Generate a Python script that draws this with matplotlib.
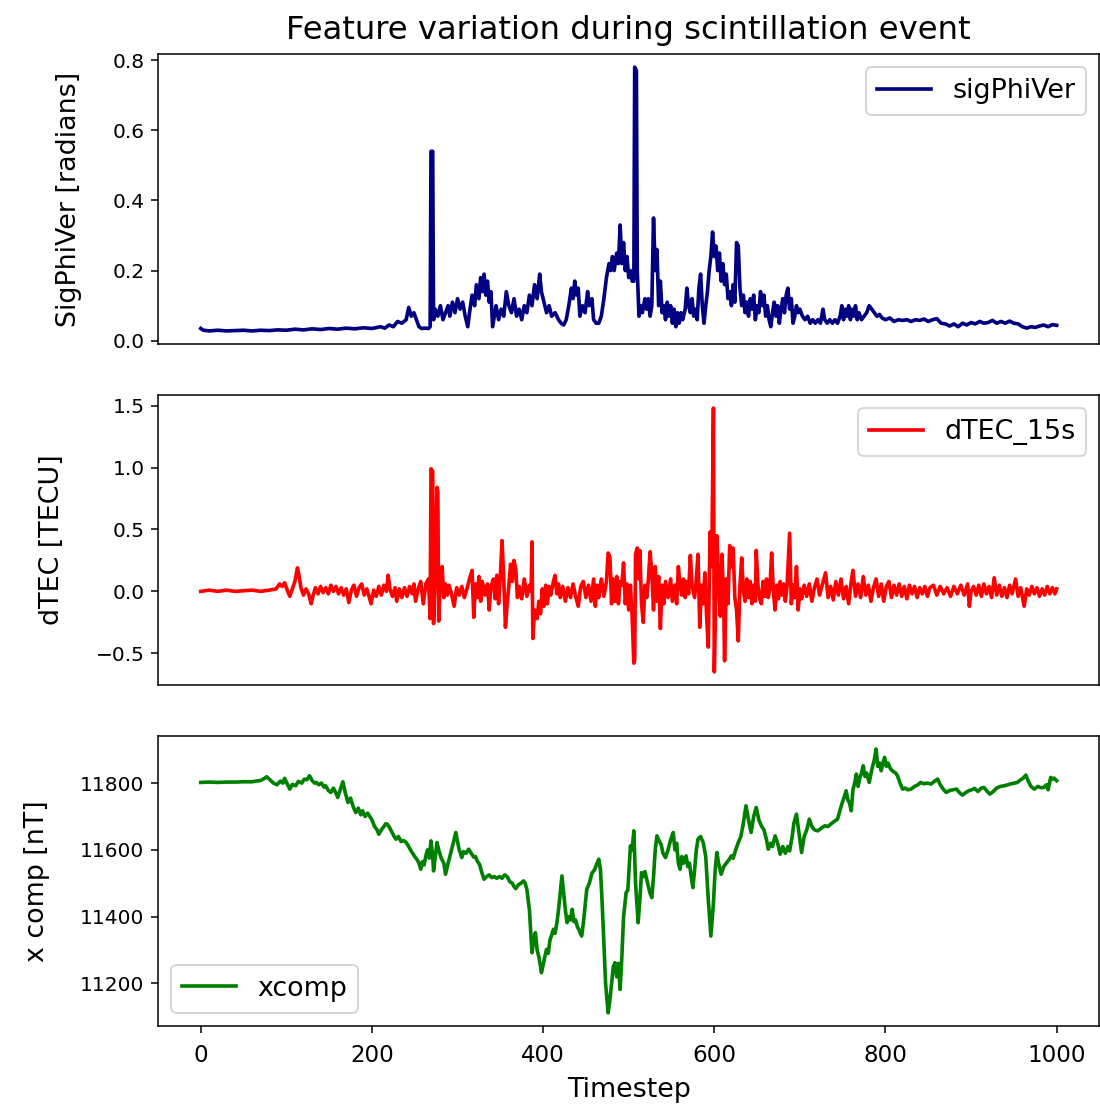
import numpy as np
import matplotlib
matplotlib.use("Agg")
import matplotlib.pyplot as plt

# sigPhiVer (radians)
sig_t = [0, 3, 10, 20, 30, 40, 50, 60, 70, 80, 90, 100, 110, 120, 130, 140, 150, 160, 170, 180,
         190, 200, 210, 215, 220, 225, 230, 235, 240, 243, 246, 249, 252, 255, 258, 262, 266, 268,
         269, 271, 272, 274, 277, 280, 283, 286, 289, 291, 294, 297, 300, 303, 306, 309, 312, 314,
         317, 320, 322, 325, 327, 329, 331, 333, 335, 337, 339, 341, 343, 345, 348, 351, 354, 357,
         360, 363, 366, 369, 372, 375, 378, 381, 384, 387, 390, 393, 396, 398, 401, 404, 407, 410,
         414, 418, 421, 424, 427, 430, 433, 435, 437, 439, 441, 443, 446, 449, 452, 454, 457, 459,
         462, 465, 468, 471, 474, 477, 479, 481, 483, 486, 488, 490, 492, 494, 496, 498, 500, 502,
         504, 506, 507, 509, 510, 512, 514, 516, 519, 521, 523, 525, 527, 529, 531, 533, 535, 537,
         539, 541, 543, 545, 547, 549, 551, 553, 555, 557, 559, 561, 563, 566, 568, 570, 572, 574,
         576, 578, 580, 582, 584, 586, 588, 590, 592, 594, 596, 598, 600, 602, 604, 606, 608, 610,
         612, 614, 616, 618, 620, 622, 624, 626, 628, 630, 632, 634, 636, 638, 640, 642, 644, 646,
         648, 650, 652, 654, 656, 658, 660, 662, 664, 666, 668, 670, 672, 674, 676, 678, 680, 682,
         684, 686, 688, 690, 692, 694, 696, 698, 700, 703, 706, 709, 712, 715, 718, 721, 724, 727,
         729, 732, 735, 738, 741, 744, 747, 749, 751, 753, 755, 757, 759, 761, 763, 765, 767, 769,
         772, 775, 778, 781, 784, 787, 790, 793, 796, 800, 805, 810, 815, 820, 825, 830, 835, 840,
         845, 850, 855, 860, 865, 870, 875, 880, 885, 890, 895, 900, 905, 910, 915, 920, 925, 930,
         935, 940, 945, 950, 955, 960, 965, 970, 975, 980, 985, 990, 995, 1000]
sig_val = [0.035, 0.03, 0.028, 0.03, 0.028, 0.029, 0.03, 0.028, 0.03, 0.029, 0.031, 0.03, 0.033,
           0.031, 0.034, 0.032, 0.035, 0.033, 0.036, 0.034, 0.037, 0.035, 0.04, 0.036, 0.045, 0.04,
           0.055, 0.05, 0.06, 0.095, 0.07, 0.08, 0.06, 0.04, 0.035, 0.036, 0.035, 0.04,
           0.54, 0.54, 0.06, 0.09, 0.07, 0.1, 0.06, 0.08, 0.1, 0.07, 0.11, 0.08, 0.12, 0.09, 0.11,
           0.07, 0.04, 0.08, 0.13, 0.1, 0.16, 0.12, 0.18, 0.14, 0.19, 0.13, 0.17, 0.11, 0.14, 0.04,
           0.07, 0.1, 0.06, 0.09, 0.07, 0.14, 0.1, 0.08, 0.12, 0.07, 0.09, 0.06, 0.1, 0.08, 0.13,
           0.1, 0.16, 0.12, 0.19, 0.14, 0.11, 0.08, 0.1, 0.07, 0.08, 0.06, 0.05, 0.045, 0.06, 0.1,
           0.15, 0.12, 0.17, 0.13, 0.15, 0.07, 0.1, 0.08, 0.14, 0.1, 0.12, 0.06, 0.05, 0.05, 0.07,
           0.12, 0.18, 0.22, 0.2, 0.24, 0.2, 0.25, 0.22, 0.33, 0.22, 0.28, 0.2, 0.24, 0.18, 0.2,
           0.17, 0.17, 0.78, 0.77, 0.2, 0.07, 0.1, 0.08, 0.12, 0.09, 0.12, 0.07, 0.1, 0.35, 0.2,
           0.26, 0.1, 0.17, 0.08, 0.1, 0.06, 0.11, 0.07, 0.1, 0.05, 0.09, 0.04, 0.08, 0.05, 0.08,
           0.06, 0.09, 0.15, 0.1, 0.08, 0.12, 0.07, 0.09, 0.06, 0.15, 0.19, 0.1, 0.05, 0.1, 0.14,
           0.2, 0.24, 0.31, 0.24, 0.27, 0.2, 0.25, 0.17, 0.22, 0.16, 0.19, 0.12, 0.14, 0.1, 0.16,
           0.11, 0.28, 0.27, 0.15, 0.1, 0.13, 0.08, 0.11, 0.07, 0.12, 0.09, 0.13, 0.06, 0.1, 0.08,
           0.14, 0.1, 0.13, 0.07, 0.1, 0.06, 0.04, 0.08, 0.11, 0.07, 0.1, 0.05, 0.09, 0.12, 0.08,
           0.13, 0.15, 0.09, 0.12, 0.05, 0.07, 0.1, 0.08, 0.09, 0.07, 0.06, 0.07, 0.05, 0.06, 0.05,
           0.06, 0.05, 0.09, 0.06, 0.05, 0.06, 0.05, 0.06, 0.05, 0.07, 0.1, 0.06, 0.09, 0.07, 0.1,
           0.06, 0.09, 0.07, 0.1, 0.06, 0.08, 0.06, 0.07, 0.08, 0.1, 0.09, 0.08, 0.07, 0.075, 0.065,
           0.06, 0.065, 0.055, 0.06, 0.058, 0.06, 0.055, 0.06, 0.058, 0.062, 0.055, 0.06, 0.063,
           0.05, 0.048, 0.042, 0.048, 0.04, 0.05, 0.045, 0.052, 0.048, 0.055, 0.05, 0.052, 0.058,
           0.05, 0.055, 0.05, 0.056, 0.05, 0.048, 0.04, 0.036, 0.04, 0.038, 0.042, 0.045, 0.04,
           0.046, 0.044]

# dTEC_15s (TECU)
dtec_t = [0, 10, 20, 30, 40, 50, 60, 70, 80, 88, 92, 95, 98, 101, 104, 107, 110, 113, 115, 117,
          120, 123, 126, 129, 131, 134, 137, 140, 143, 146, 149, 152, 155, 158, 161, 164, 167, 170,
          173, 176, 179, 182, 185, 188, 191, 194, 197, 199, 202, 205, 208, 211, 214, 217, 219, 221,
          224, 227, 229, 232, 235, 238, 241, 244, 247, 249, 251, 254, 257, 260, 263, 266, 268, 269,
          271, 272, 274, 276, 277, 278, 280, 282, 284, 286, 288, 290, 293, 296, 299, 302, 305, 308,
          311, 314, 317, 319, 321, 323, 325, 327, 329, 332, 335, 337, 339, 342, 344, 346, 348, 350,
          352, 354, 356, 358, 360, 362, 364, 366, 368, 370, 372, 375, 378, 381, 384, 386, 387, 388,
          390, 393, 395, 397, 399, 401, 403, 405, 407, 409, 412, 414, 416, 418, 420, 423, 426, 429,
          432, 435, 438, 441, 444, 447, 450, 453, 456, 459, 461, 463, 465, 468, 471, 474, 476, 478,
          480, 482, 484, 486, 488, 490, 492, 494, 496, 498, 500, 502, 504, 506, 507, 508, 510, 512,
          513, 515, 517, 519, 521, 523, 525, 527, 529, 531, 533, 535, 537, 539, 541, 543, 546, 549,
          551, 554, 556, 558, 560, 562, 564, 566, 568, 570, 572, 574, 577, 579, 581, 583, 585, 587,
          589, 591, 593, 595, 597, 599, 600, 601, 603, 605, 607, 609, 611, 612, 614, 616, 618, 620,
          622, 624, 626, 628, 630, 632, 634, 636, 638, 640, 642, 644, 646, 648, 649, 651, 653, 655,
          657, 659, 661, 663, 665, 667, 669, 671, 673, 675, 677, 679, 681, 683, 685, 688, 690, 692,
          694, 696, 698, 700, 702, 705, 708, 711, 714, 717, 720, 723, 726, 730, 733, 736, 739, 742,
          745, 748, 751, 754, 757, 760, 762, 765, 768, 771, 774, 777, 780, 783, 786, 789, 792, 795,
          798, 801, 804, 807, 810, 813, 816, 819, 822, 825, 828, 831, 834, 837, 840, 843, 846, 849,
          852, 856, 860, 864, 868, 872, 876, 880, 884, 888, 892, 896, 898, 900, 903, 906, 909, 912,
          915, 918, 921, 924, 927, 930, 933, 936, 939, 942, 945, 948, 952, 955, 958, 962, 965, 968,
          971, 974, 977, 980, 983, 986, 989, 992, 995, 998, 1000]
dtec_val = [0.0, 0.01, 0.0, 0.01, 0.0, 0.005, 0.01, 0.0, 0.01, 0.02, 0.06, 0.04, 0.07, 0.01, -0.04,
            0.02, 0.08, 0.19, 0.12, 0.03, -0.03, 0.02, -0.02, -0.1, -0.04, 0.03, -0.02, 0.04,
            -0.01, 0.03, -0.02, 0.05, 0.0, 0.04, -0.02, 0.03, -0.03, 0.02, -0.09, 0.01, 0.05,
            -0.04, 0.03, 0.06, -0.03, 0.02, -0.05, -0.1, 0.01, -0.04, 0.04, -0.03, 0.05, 0.0, 0.13,
            0.02, -0.04, 0.03, -0.08, 0.02, -0.05, 0.03, -0.04, 0.04, -0.02, 0.06, -0.08, 0.02,
            0.08, -0.1, 0.06, 0.1, -0.22, 0.99, 0.97, -0.26, 0.15, 0.84, 0.8, -0.24, 0.1, 0.2,
            -0.05, 0.06, -0.03, 0.05, -0.02, -0.12, 0.03, -0.03, 0.04, -0.05, 0.02, 0.1, 0.17,
            -0.21, 0.06, -0.05, 0.12, -0.08, 0.08, -0.03, 0.06, -0.15, 0.04, 0.1, -0.06, 0.13,
            -0.1, 0.12, 0.41, 0.1, -0.29, -0.1, 0.05, 0.22, 0.08, 0.25, 0.18, -0.05, 0.04, -0.06,
            0.1, -0.04, 0.05, 0.0, 0.4, -0.38, -0.15, -0.22, -0.08, -0.18, 0.02, -0.12, 0.05, -0.1,
            0.04, -0.03, 0.08, 0.13, -0.02, 0.06, -0.05, 0.04, -0.08, 0.03, -0.05, 0.06, -0.04,
            -0.12, 0.04, 0.08, -0.05, 0.05, -0.08, 0.1, -0.12, 0.05, -0.05, 0.1, -0.04, 0.08, 0.31,
            0.28, -0.1, 0.1, -0.08, 0.12, -0.1, 0.08, 0.05, 0.23, -0.1, 0.06, -0.15, 0.05, -0.2,
            -0.58, -0.55, 0.3, 0.35, 0.1, 0.33, -0.1, -0.25, 0.05, -0.05, 0.1, 0.32, 0.15, -0.15,
            0.2, -0.08, 0.12, -0.3, 0.05, -0.1, 0.08, -0.05, 0.1, -0.08, 0.05, -0.1, 0.2, 0.05,
            -0.03, 0.1, -0.05, 0.08, -0.02, 0.29, 0.05, -0.05, 0.1, 0.3, -0.29, 0.05, -0.1, 0.15,
            -0.2, -0.45, 0.48, 0.2, 1.48, -0.65, -0.3, 0.45, 0.1, -0.2, 0.3, -0.1, -0.56, 0.1,
            -0.1, 0.37, 0.2, 0.35, -0.05, -0.15, -0.4, 0.05, 0.27, 0.0, -0.08, 0.1, -0.05, 0.08,
            -0.1, 0.05, -0.08, 0.33, 0.05, -0.06, -0.1, 0.08, -0.04, 0.1, -0.05, 0.03, 0.31, 0.0,
            -0.15, 0.05, -0.06, 0.08, -0.03, 0.06, -0.08, 0.04, 0.47, -0.1, 0.05, -0.05, 0.2,
            -0.15, 0.02, -0.06, 0.05, -0.04, 0.06, -0.08, 0.03, 0.1, -0.03, 0.05, 0.15, -0.05,
            0.04, -0.07, 0.08, -0.03, 0.1, -0.06, 0.04, -0.1, 0.08, 0.17, -0.04, 0.06, -0.05,
            0.12, -0.03, 0.05, -0.08, 0.03, 0.1, -0.04, 0.06, -0.08, 0.04, 0.08, -0.05, 0.05,
            -0.03, 0.06, -0.04, 0.04, -0.06, 0.05, -0.02, 0.04, -0.05, 0.03, -0.02, 0.04, -0.04,
            0.03, 0.05, -0.03, 0.04, -0.02, 0.03, -0.04, 0.04, -0.02, 0.05, -0.03, 0.06, -0.12,
            0.0, 0.04, -0.03, 0.05, -0.04, 0.06, -0.02, 0.04, -0.05, 0.11, -0.03, 0.05, -0.04,
            0.03, -0.05, 0.05, -0.02, 0.1, -0.04, 0.03, -0.12, 0.02, -0.03, 0.04, -0.02, 0.03,
            -0.04, 0.02, -0.03, 0.04, -0.02, 0.03, -0.02, 0.02]

# xcomp (nT)
xcomp_t = [0, 10, 20, 30, 40, 50, 60, 70, 75, 77, 80, 85, 89, 93, 96, 98, 101, 104, 107, 111,
           114, 118, 121, 124, 127, 130, 133, 135, 138, 141, 144, 146, 149, 152, 155, 158, 160,
           163, 166, 169, 172, 175, 178, 181, 184, 187, 189, 192, 195, 197, 200, 203, 206, 208,
           211, 214, 216, 218, 221, 224, 226, 228, 231, 234, 237, 240, 243, 245, 247, 250, 253,
           255, 257, 259, 261, 263, 265, 267, 269, 271, 272, 274, 276, 278, 281, 284, 286, 289,
           292, 295, 298, 300, 302, 305, 307, 310, 313, 316, 319, 321, 323, 326, 328, 331, 334,
           337, 340, 343, 346, 349, 352, 355, 358, 361, 364, 366, 368, 371, 374, 377, 379, 381,
           384, 387, 389, 391, 393, 395, 397, 398, 400, 402, 404, 406, 408, 410, 412, 414, 416,
           418, 420, 422, 424, 426, 428, 430, 432, 434, 436, 438, 440, 442, 445, 447, 449, 451,
           454, 457, 460, 463, 465, 467, 469, 471, 473, 476, 478, 480, 482, 484, 486, 488, 490,
           492, 494, 497, 499, 502, 504, 506, 508, 510, 511, 513, 515, 517, 519, 521, 523, 525,
           527, 529, 531, 533, 535, 538, 540, 543, 546, 549, 552, 554, 556, 558, 560, 562, 564,
           567, 569, 571, 573, 575, 577, 579, 581, 584, 587, 590, 593, 596, 599, 601, 603, 605,
           608, 611, 614, 617, 620, 622, 625, 628, 631, 634, 637, 640, 643, 646, 649, 652, 655,
           658, 661, 663, 666, 668, 671, 674, 677, 680, 683, 686, 688, 691, 693, 696, 699, 702,
           705, 708, 711, 714, 717, 721, 725, 729, 733, 736, 740, 744, 747, 750, 752, 754, 756,
           758, 760, 762, 764, 766, 768, 770, 772, 774, 776, 778, 781, 784, 787, 789, 791, 793,
           795, 797, 799, 801, 803, 806, 809, 812, 814, 817, 820, 823, 826, 830, 834, 838, 841,
           845, 849, 853, 857, 861, 864, 868, 871, 875, 879, 883, 887, 890, 894, 898, 901, 904,
           908, 912, 915, 919, 922, 926, 930, 934, 939, 943, 947, 951, 954, 958, 961, 964, 967,
           970, 974, 978, 982, 985, 988, 990, 993, 995, 997, 1000]
xcomp_val = [11802, 11803, 11802, 11803, 11803, 11804, 11804, 11808, 11815, 11819, 11812, 11800,
             11795, 11806, 11800, 11814, 11798, 11782, 11796, 11792, 11805, 11800, 11812, 11810,
             11822, 11808, 11800, 11802, 11795, 11800, 11788, 11792, 11778, 11772, 11785, 11770,
             11757, 11780, 11804, 11770, 11742, 11755, 11730, 11712, 11725, 11705, 11717, 11700,
             11710, 11702, 11690, 11670, 11660, 11647, 11660, 11670, 11678, 11677, 11665, 11650,
             11640, 11632, 11640, 11625, 11628, 11622, 11610, 11600, 11592, 11580, 11570, 11560,
             11542, 11565, 11555, 11582, 11600, 11575, 11627, 11580, 11537, 11580, 11622, 11600,
             11575, 11560, 11527, 11560, 11590, 11620, 11652, 11625, 11600, 11577, 11595, 11590,
             11602, 11590, 11578, 11580, 11567, 11555, 11535, 11512, 11520, 11525, 11517, 11520,
             11515, 11520, 11515, 11525, 11520, 11505, 11500, 11490, 11484, 11495, 11500, 11507,
             11500, 11482, 11420, 11292, 11330, 11352, 11300, 11280, 11250, 11232, 11255, 11280,
             11302, 11290, 11330, 11345, 11362, 11350, 11380, 11420, 11470, 11522, 11470, 11420,
             11382, 11400, 11390, 11422, 11385, 11390, 11370, 11360, 11342, 11380, 11430, 11482,
             11500, 11530, 11540, 11560, 11572, 11540, 11440, 11320, 11200, 11112, 11150, 11200,
             11250, 11262, 11220, 11260, 11182, 11280, 11400, 11472, 11480, 11612, 11600, 11657,
             11500, 11420, 11382, 11450, 11532, 11520, 11535, 11512, 11490, 11470, 11457, 11520,
             11600, 11642, 11630, 11615, 11590, 11577, 11600, 11630, 11652, 11600, 11620, 11560,
             11542, 11580, 11560, 11582, 11550, 11560, 11520, 11487, 11540, 11600, 11632, 11640,
             11622, 11580, 11450, 11342, 11440, 11540, 11592, 11560, 11527, 11550, 11560, 11570,
             11582, 11575, 11600, 11622, 11640, 11680, 11732, 11690, 11652, 11700, 11727, 11690,
             11672, 11660, 11630, 11602, 11620, 11610, 11642, 11620, 11587, 11610, 11590, 11610,
             11597, 11640, 11680, 11707, 11650, 11592, 11640, 11660, 11692, 11670, 11660, 11657,
             11665, 11672, 11670, 11677, 11685, 11692, 11720, 11745, 11760, 11777, 11750, 11740,
             11717, 11780, 11800, 11827, 11790, 11815, 11830, 11852, 11820, 11830, 11802, 11840,
             11870, 11902, 11850, 11860, 11837, 11860, 11877, 11850, 11860, 11842, 11835, 11830,
             11822, 11800, 11782, 11785, 11780, 11782, 11790, 11795, 11802, 11798, 11800, 11797,
             11805, 11812, 11795, 11780, 11772, 11778, 11780, 11782, 11770, 11764, 11772, 11778,
             11780, 11784, 11775, 11785, 11787, 11775, 11767, 11775, 11785, 11790, 11792, 11795,
             11798, 11800, 11802, 11810, 11815, 11824, 11805, 11790, 11782, 11790, 11786, 11787,
             11795, 11780, 11817, 11812, 11815, 11807]

fig, axes = plt.subplots(3, 1, sharex=True, figsize=(1100 / 138, 1108 / 138), dpi=138)
fig.subplots_adjust(left=0.1436, right=0.9995, top=0.9513, bottom=0.074, hspace=0.175)

label_size = 14
legend_size = 14
ax1, ax2, ax3 = axes

ax1.plot(sig_t, sig_val, color="navy", lw=1.9, label="sigPhiVer")
ax1.set_ylabel("SigPhiVer [radians]", fontsize=label_size, labelpad=16)
ax1.set_title("Feature variation during scintillation event", fontsize=16.8, pad=8)
ax1.legend(loc="upper right", fontsize=legend_size)

ax2.plot(dtec_t, dtec_val, color="red", lw=1.9, label="dTEC_15s")
ax2.set_ylabel("dTEC [TECU]", fontsize=label_size, labelpad=16)
ax2.legend(loc="upper right", fontsize=legend_size)

ax3.plot(xcomp_t, xcomp_val, color="green", lw=1.9, label="xcomp")
ax3.set_ylabel("x comp [nT]", fontsize=label_size, labelpad=16)
ax3.set_xlabel("Timestep", fontsize=label_size, labelpad=5)
ax3.legend(loc="lower left", fontsize=legend_size)

for ax in (ax1, ax2):
    ax.tick_params(axis="x", bottom=False)
for ax in axes:
    ax.tick_params(labelsize=10.5)
ax3.tick_params(axis="x", labelsize=12, pad=6)

fig.savefig("out.png", dpi=138)
